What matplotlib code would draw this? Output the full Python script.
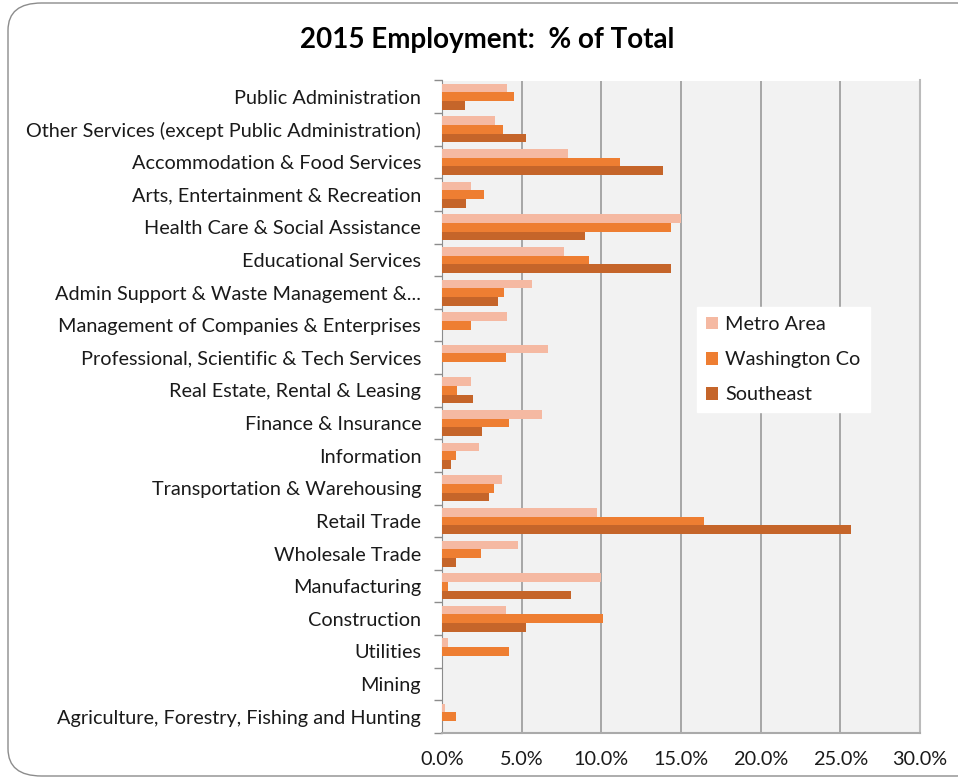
import matplotlib
matplotlib.use("Agg")
import matplotlib.pyplot as plt
import numpy as np
from matplotlib.patches import FancyBboxPatch
from matplotlib.ticker import FixedLocator, FuncFormatter

categories = [
    "Public Administration",
    "Other Services (except Public Administration)",
    "Accommodation & Food Services",
    "Arts, Entertainment & Recreation",
    "Health Care & Social Assistance",
    "Educational Services",
    "Admin Support & Waste Management &...",
    "Management of Companies & Enterprises",
    "Professional, Scientific & Tech Services",
    "Real Estate, Rental & Leasing",
    "Finance & Insurance",
    "Information",
    "Transportation & Warehousing",
    "Retail Trade",
    "Wholesale Trade",
    "Manufacturing",
    "Construction",
    "Utilities",
    "Mining",
    "Agriculture, Forestry, Fishing and Hunting",
]
metro = [4.1, 3.35, 7.9, 1.85, 15.0, 7.65, 5.65, 4.1, 6.65, 1.8, 6.3, 2.3,
         3.75, 9.7, 4.75, 10.0, 4.0, 0.4, 0.0, 0.17]
washington = [4.55, 3.85, 11.2, 2.65, 14.4, 9.2, 3.9, 1.85, 4.0, 0.95, 4.2, 0.9,
              3.25, 16.45, 2.45, 0.4, 10.1, 4.2, 0.0, 0.9]
southeast = [1.45, 5.3, 13.9, 1.5, 9.0, 14.4, 3.5, 0.0, 0.0, 1.95, 2.5, 0.55,
             2.95, 25.65, 0.9, 8.1, 5.3, 0.0, 0.0, 0.0]
series_names = ["Metro Area", "Washington Co", "Southeast"]
xticks = [0, 5, 10, 15, 20, 25, 30]

colors = ["#F5B9A2", "#EE7E32", "#C5652A"]
font = ["Lato", "DejaVu Sans"]
plt.rcParams["font.family"] = font

fig = plt.figure(figsize=(9.58, 7.8), dpi=100)
W, H = 958, 780

# outer chart frame
frame = FancyBboxPatch((8 / W, 4 / H), (990 - 8) / W, (777 - 4) / H,
                       boxstyle="round,pad=0,rounding_size=0.035",
                       transform=fig.transFigure, facecolor="white",
                       edgecolor="#8C8C8C", linewidth=1.0, zorder=-5)
fig.patches.append(frame)

left, right, top, bottom = 442, 920, 80.5, 733
ax = fig.add_axes([left / W, 1 - bottom / H, (right - left) / W, (bottom - top) / H])
ax.set_zorder(2)
ax.set_facecolor("#F2F2F2")

n = len(categories)
y = np.arange(n)
bh = 0.8 / 3
data = [metro, washington, southeast]
for i, (vals, c, name) in enumerate(zip(data, colors, series_names)):
    ax.barh(y + (i - 1) * bh, vals, height=bh, color=c, label=name, zorder=3)

fs = 14.3
ax.set_xlim(0, 30)
ax.set_ylim(n - 0.5, -0.5)
ax.set_xticks(xticks)
ax.xaxis.set_major_formatter(FuncFormatter(lambda v, p: f"{v:.1f}%"))
ax.grid(axis="x", color="#9A9A9A", linewidth=1.2, zorder=1)
ax.set_axisbelow(True)
ax.set_yticks(y)
ax.set_yticklabels(categories)
ax.yaxis.set_minor_locator(FixedLocator(np.arange(-0.5, n, 1.0)))
ax.tick_params(axis="y", which="major", length=0, pad=15, labelsize=fs,
               labelcolor="#1A1A1A")
ax.tick_params(axis="y", which="minor", length=6, color="#8C8C8C", width=1)
ax.tick_params(axis="x", which="major", length=0, pad=13, labelsize=fs,
               labelcolor="#1A1A1A")
ax.spines["top"].set_visible(False)
ax.spines["right"].set_color("#BBBBBB")
ax.spines["right"].set_linewidth(1.5)
ax.spines["left"].set_color("#8C8C8C")
ax.spines["bottom"].set_color("#AAAAAA")
ax.spines["bottom"].set_linewidth(1.5)

leg = ax.legend(loc="upper left", bbox_to_anchor=((697 - left) / (right - left), 1 - (307 - top) / (bottom - top)),
                borderaxespad=0, frameon=True, fancybox=False, framealpha=1, edgecolor="white",
                facecolor="white", fontsize=fs, handlelength=0.6, handleheight=0.6,
                labelspacing=0.92, handletextpad=0.38, borderpad=0.45)
for t in leg.get_texts():
    t.set_color("#1A1A1A")

fig.text(487 / W, 1 - 40 / H, "2015 Employment:  % of Total", ha="center", va="center",
         fontsize=20, fontweight="bold", color="black")

fig.savefig("out.png", dpi=100)
